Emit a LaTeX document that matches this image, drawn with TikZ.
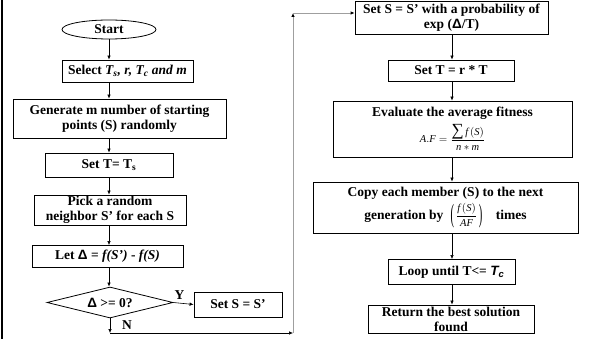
\documentclass[tikz,border=0pt]{standalone}
\usepackage{amsmath}
\usepackage{graphicx}
\usepackage{fontspec}
\setmainfont{Liberation Serif}
\setsansfont{Liberation Sans}
\usetikzlibrary{shapes.geometric,arrows.meta}
\newcommand{\bigpar}[1]{\raisebox{-0.62ex}{\scalebox{1}[2.5]{\normalfont #1}}}
\begin{document}
\begin{tikzpicture}[x=1pt,y=-1pt,
  box/.style={draw, line width=0.8pt, inner sep=1pt, align=center,
    font=\bfseries\fontsize{13.5}{15}\selectfont},
  arr/.style={-{Latex[length=4pt,width=3.5pt]}, line width=0.6pt},
  garr/.style={-{Latex[length=4pt,width=3.5pt,color=black]}, line width=0.9pt, draw=gray!75},
  lbl/.style={font=\bfseries\fontsize{13.5}{15}\selectfont, inner sep=0pt}
]
\useasboundingbox (0,0) rectangle (592,339);
\draw[line width=2.4pt] (2,0) -- (2,339);

% left column
\node[box, ellipse, minimum width=94pt, minimum height=19pt, inner sep=0pt] (start) at (109,29.5) {Start};
\node[box, minimum width=131pt, minimum height=22pt] (select) at (127.5,71)
  {Select \textit{T\textsubscript{s}, r, T\textsubscript{c} and m}};
\node[box, minimum width=213pt, minimum height=39pt] (gen) at (119.5,118.5)
  {Generate m number of starting\\points (S) randomly};
\node[box, minimum width=128pt, minimum height=24pt] (setT) at (109,165)
  {Set T= T\textsubscript{s}};
\node[box, minimum width=152pt, minimum height=30pt] (pick) at (110,210)
  {Pick a random\\neighbor S’ for each S};
\node[box, minimum width=151pt, minimum height=22pt] (let) at (107.5,256.5)
  {Let \textsf{Δ} = \textit{f(S’)} - \textit{f(S)}};
\node[box, diamond, aspect=4, inner sep=0pt, minimum width=126pt, minimum height=31pt] (dec) at (110,302.5)
  {\textsf{Δ} >= 0?};
\node[box, minimum width=88pt, minimum height=25pt] (setS) at (238,304.5)
  {Set S = S’};

% right column
\node[box, minimum width=193pt, minimum height=33pt] (prob) at (451.5,17.5)
  {Set S = S’ with a probability of\\exp (\textsf{Δ}/T)};
\node[box, minimum width=126pt, minimum height=21pt] (setTr) at (451,70.5)
  {Set T = r * T};
\node[box, minimum width=239pt, minimum height=56pt] (eval) at (452.5,129)
  {Evaluate the average fitness\\[3pt]
   {\normalfont\fontsize{10.5}{11}\selectfont $\mathit{A.F}=\dfrac{\text{\fontsize{17}{17}\selectfont ∑}\,\mathit{f}\,(\mathit{S})}{\mathit{n}*\mathit{m}}$}};
\node[box, minimum width=265pt, minimum height=51pt] (copy) at (445.5,207.5)
  {Copy each member (S) to the next\\[3pt]
   generation by \;{\normalfont\fontsize{10.5}{11}\selectfont \bigpar{(}\hspace{2pt}$\dfrac{\mathit{f}\,(\mathit{S})}{\mathit{AF}}$\hspace{2pt}\bigpar{)}}\quad times};
\node[box, minimum width=127pt, minimum height=25pt] (loop) at (451.5,272)
  {Loop until T<= \textsf{\textit{T\textsubscript{c}}}};
\node[box, minimum width=166pt, minimum height=28pt] (ret) at (451,319)
  {Return the best solution\\found};

% connectors left
\coordinate (cl) at (109,0);
\draw[arr] (start.south) -- (start.south |- select.north);
\draw[arr] (cl |- select.south) -- (cl |- gen.north);
\draw[arr] (cl |- gen.south) -- (cl |- setT.north);
\draw[arr] (cl |- setT.south) -- (cl |- pick.north);
\draw[arr] (cl |- pick.south) -- (cl |- let.north);
\draw[arr] (cl |- let.south) -- (cl |- dec.north);
\draw[arr] (dec.east) -- node[lbl, pos=0.3, above=3pt] {Y} (setS.west);
\coordinate (nb) at (110,333);
\coordinate (br) at (293,333);
\coordinate (tr) at (293,13);
\draw[arr] (dec.south) -- (nb);
\node[lbl] (N) at (127,325) {N};
\draw[arr] (nb) -- (br);
\draw[garr] (br) -- (tr);
\draw[garr] (tr) -- (prob.west |- tr);

% connectors right
\coordinate (cr) at (452,0);
\draw[arr] (cr |- prob.south) -- (cr |- setTr.north);
\draw[arr] (cr |- setTr.south) -- (cr |- eval.north);
\draw[arr] (cr |- eval.south) -- (cr |- copy.north);
\draw[arr] (cr |- copy.south) -- (cr |- loop.north);
\draw[arr] (cr |- loop.south) -- (cr |- ret.north);
\end{tikzpicture}
\end{document}
